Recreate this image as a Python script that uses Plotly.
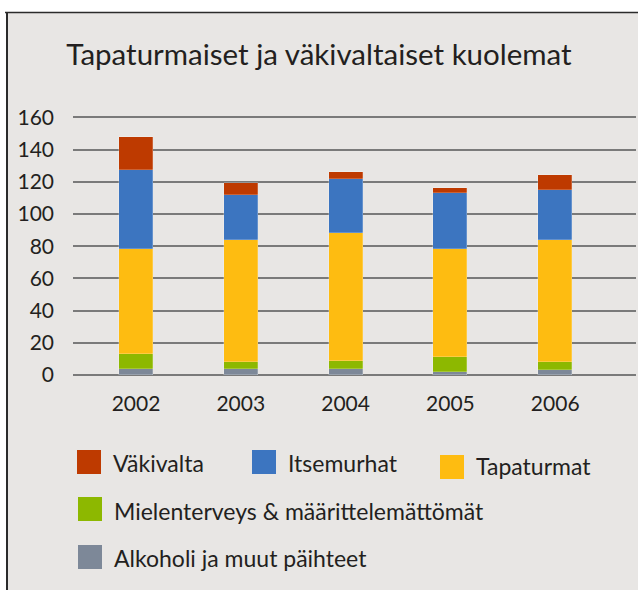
import plotly.graph_objects as go

# ---- data ----
years = ["2002", "2003", "2004", "2005", "2006"]
alkoholi = [4, 4, 4, 2, 3]
mielenterveys = [9, 4, 5, 9, 5]
tapaturmat = [65, 76, 79, 67, 76]
itsemurhat = [49, 28, 34, 35, 31]
vakivalta = [21, 7, 4, 3, 9]

series_names = ["Alkoholi ja muut päihteet", "Mielenterveys & määrittelemättömät",
                "Tapaturmat", "Itsemurhat", "Väkivalta"]
series_values = [alkoholi, mielenterveys, tapaturmat, itsemurhat, vakivalta]
series_colors = ["#7D8898", "#8DB800", "#FEBC11", "#3C75C0", "#BE3A00"]
y_ticks = [0, 20, 40, 60, 80, 100, 120, 140, 160]
title_text = "Tapaturmaiset ja väkivaltaiset kuolemat"

FONT = "Lato"
TXT = "#231F20"
BG = "#E8E6E4"

W, H = 638, 590
ML, MR, MT, MB = 73, 2, 116, 213
PW, PH = W - ML - MR, H - MT - MB


def px_x(px):
    return (px - ML) / PW


def px_y(py):
    return 1 - (py - MT) / PH


fig = go.Figure()
for name, vals, col in zip(series_names, series_values, series_colors):
    fig.add_trace(go.Bar(
        x=years, y=vals, name=name, width=0.325,
        marker=dict(color=col, line=dict(color="rgba(255,255,255,0.35)", width=0.6)),
        showlegend=False,
    ))

shapes = []
annotations = []
# white surround + frame lines
shapes.append(dict(type="rect", xref="paper", yref="paper", x0=px_x(-5), x1=px_x(W + 5),
                   y0=px_y(12), y1=px_y(-5), fillcolor="white", line=dict(width=0), layer="below"))
shapes.append(dict(type="rect", xref="paper", yref="paper", x0=px_x(-5), x1=px_x(6),
                   y0=px_y(H + 5), y1=px_y(12), fillcolor="white", line=dict(width=0), layer="below"))
shapes.append(dict(type="line", xref="paper", yref="paper", x0=px_x(5), x1=px_x(W + 5),
                   y0=px_y(12.5), y1=px_y(12.5), line=dict(color="#2b2b2b", width=1.5)))
shapes.append(dict(type="line", xref="paper", yref="paper", x0=px_x(7), x1=px_x(7),
                   y0=px_y(12), y1=px_y(H + 5), line=dict(color="#2b2b2b", width=2)))

# legend drawn as squares + labels
legend_items = [
    ("Väkivalta", "#BE3A00", 77, 450, 463),
    ("Itsemurhat", "#3C75C0", 252, 450, 463),
    ("Tapaturmat", "#FEBC11", 440, 455, 466),
    ("Mielenterveys & määrittelemättömät", "#8DB800", 78, 497, 511),
    ("Alkoholi ja muut päihteet", "#7D8898", 78, 545, 558),
]
for label, col, sx, sy, ty in legend_items:
    shapes.append(dict(type="rect", xref="paper", yref="paper", x0=px_x(sx), x1=px_x(sx + 24),
                       y0=px_y(sy + 24), y1=px_y(sy), fillcolor=col, line=dict(width=0)))
    annotations.append(dict(xref="paper", yref="paper", x=px_x(sx + 34), y=px_y(ty),
                            text=label, showarrow=False, xanchor="left", yanchor="middle",
                            font=dict(family=FONT, size=23, color=TXT)))

fig.update_layout(
    width=W, height=H,
    margin=dict(l=ML, r=MR, t=MT, b=MB),
    paper_bgcolor=BG, plot_bgcolor=BG,
    barmode="stack", bargap=0,
    title=dict(text=title_text, x=0.5, xref="container", xanchor="center",
               y=1 - 55 / H, yref="container", yanchor="middle",
               font=dict(family=FONT, size=29.5, color=TXT)),
    xaxis=dict(type="category", range=[-0.601, 4.771], showgrid=False, zeroline=False,
               showline=False, ticks="", ticklabelstandoff=12,
               tickfont=dict(family=FONT, size=21, color=TXT)),
    yaxis=dict(range=[-1.24, 160.81], tickvals=y_ticks, showgrid=True, gridcolor="#7a7a7a",
               gridwidth=1.5, zeroline=False, showline=False, ticks="", ticklabelstandoff=18,
               tickfont=dict(family=FONT, size=21, color=TXT)),
    shapes=shapes, annotations=annotations,
    showlegend=False,
)

fig.write_html("out.html", config={"displayModeBar": False},
               post_script="document.body.style.margin='0';document.body.style.overflow='hidden';")
